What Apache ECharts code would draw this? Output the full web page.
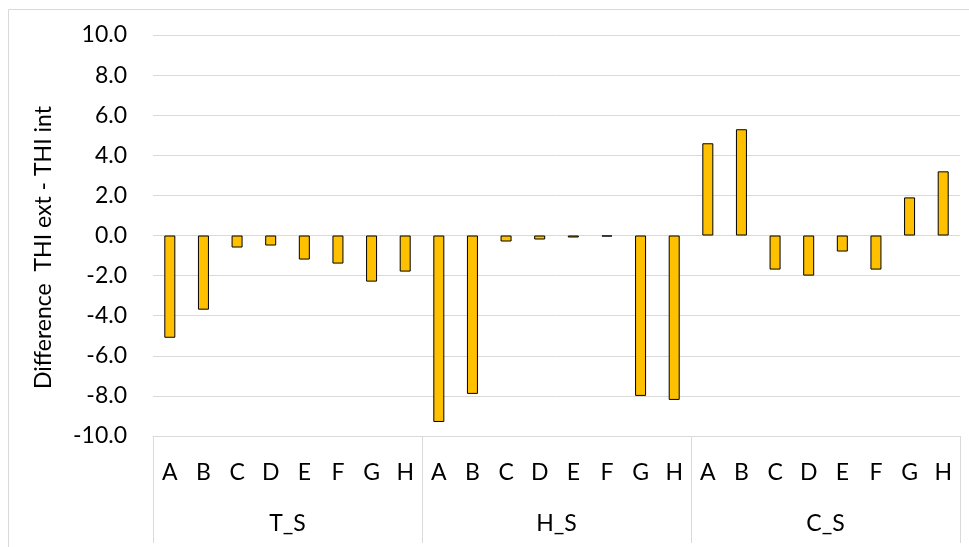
<!DOCTYPE html>
<html>
<head>
<meta charset="utf-8">
<script src="https://cdn.jsdelivr.net/npm/echarts@6/dist/echarts.min.js"></script>
<style>
  html, body { margin: 0; padding: 0; background: #fff; }
  #chart { width: 969px; height: 547px; }
</style>
</head>
<body>
<div id="chart"></div>
<script>
var groups = ['T_S', 'H_S', 'C_S'];
var letters = ['A', 'B', 'C', 'D', 'E', 'F', 'G', 'H'];
var valuesTS = [-5.1, -3.7, -0.6, -0.5, -1.2, -1.4, -2.3, -1.8];
var valuesHS = [-9.3, -7.9, -0.3, -0.2, -0.1, -0.05, -8.0, -8.2];
var valuesCS = [4.6, 5.3, -1.7, -2.0, -0.8, -1.7, 1.9, 3.2];
var yTicks = [-10, 10, 2];

var categories = [];
groups.forEach(function (g) {
  letters.forEach(function (l) { categories.push(l); });
});
var values = valuesTS.concat(valuesHS, valuesCS);

var font = 'Lato, "Open Sans", sans-serif';
var gridColor = '#d9d9d9';

var myChart = echarts.init(document.getElementById('chart'));
var option = {
  backgroundColor: '#ffffff',
  animation: false,
  textStyle: { fontFamily: font },
  graphic: [{
    type: 'rect',
    shape: { x: 8.5, y: 9.5, width: 1000, height: 600 },
    style: { fill: 'none', stroke: gridColor, lineWidth: 1 },
    silent: true
  }],
  grid: { left: 153, right: 9, top: 35, bottom: 111, containLabel: false },
  xAxis: [
    {
      type: 'category',
      data: categories,
      position: 'bottom',
      axisLine: { show: true, onZero: false, lineStyle: { color: gridColor, width: 1 } },
      axisTick: { show: false },
      axisLabel: { interval: 0, margin: 25, fontSize: 23, color: '#000', fontFamily: font }
    },
    {
      type: 'category',
      data: groups,
      position: 'bottom',
      axisLine: { show: false, onZero: false },
      axisTick: { show: true, interval: 0, length: 107, lineStyle: { color: gridColor, width: 1 } },
      axisLabel: { interval: 0, margin: 76, fontSize: 23, color: '#000', fontFamily: font }
    }
  ],
  yAxis: {
    type: 'value',
    min: yTicks[0],
    max: yTicks[1],
    interval: yTicks[2],
    name: 'Difference  THI ext - THI int',
    nameLocation: 'middle',
    nameGap: 98,
    nameTextStyle: { fontSize: 23, color: '#000', fontFamily: font, padding: [0, 24, 0, 0] },
    axisLine: { show: false },
    axisTick: { show: false },
    axisLabel: {
      margin: 26,
      fontSize: 23,
      color: '#000',
      fontFamily: font,
      formatter: function (v) { return v.toFixed(1); }
    },
    splitLine: { show: true, lineStyle: { color: gridColor, width: 1 } }
  },
  series: [{
    type: 'bar',
    xAxisIndex: 0,
    data: values,
    barWidth: 11,
    itemStyle: { color: '#ffc000', borderColor: '#000', borderWidth: 1 }
  }]
};
myChart.setOption(option);
</script>
</body>
</html>
